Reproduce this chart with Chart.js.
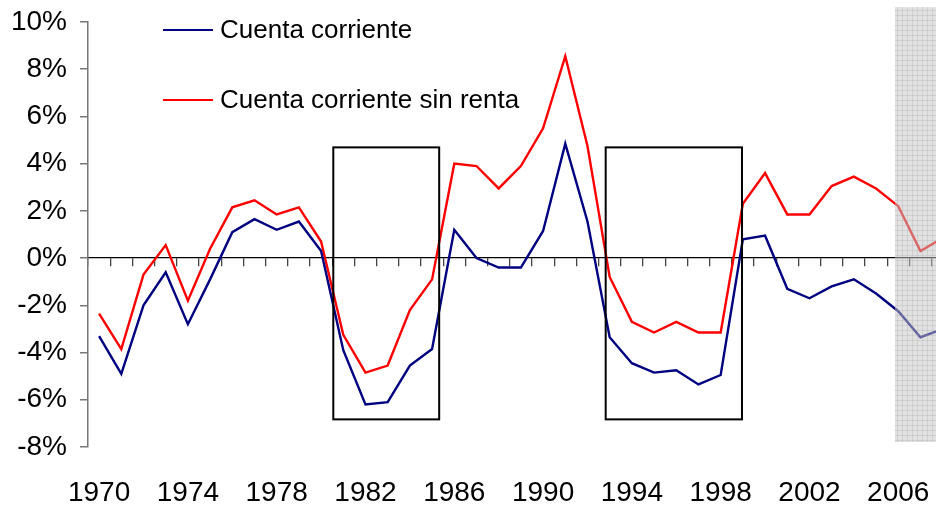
<!DOCTYPE html>
<html>
<head>
<meta charset="utf-8">
<script src="https://cdn.jsdelivr.net/npm/chart.js@4/dist/chart.umd.min.js"></script>
<style>
  html, body { margin: 0; padding: 0; background: #fff; overflow: hidden; }
  #wrap { width: 936px; height: 509px; }
</style>
</head>
<body>
<div id="wrap"><canvas id="chart" width="936" height="509"></canvas></div>
<script>
// years 1970..2008 (the last one runs off the right edge)
const years = [1970, 1971, 1972, 1973, 1974, 1975, 1976, 1977, 1978, 1979,
  1980, 1981, 1982, 1983, 1984, 1985, 1986, 1987, 1988, 1989,
  1990, 1991, 1992, 1993, 1994, 1995, 1996, 1997, 1998, 1999,
  2000, 2001, 2002, 2003, 2004, 2005, 2006, 2007, 2008]

const cuentaCorriente = [-3.3, -4.9, -2.0, -0.6, -2.8, -0.9, 1.1, 1.65, 1.2, 1.55,
  0.3, -3.9, -6.2, -6.1, -4.55, -3.85, 1.2, 0.0, -0.4, -0.4,
  1.15, 4.85, 1.55, -3.35, -4.45, -4.85, -4.75, -5.35, -4.95, 0.8,
  0.95, -1.3, -1.7, -1.2, -0.9, -1.5, -2.25, -3.35, -3.0]

const sinRenta = [-2.35, -3.85, -0.7, 0.55, -1.8, 0.4, 2.15, 2.45, 1.85, 2.15,
  0.7, -3.25, -4.85, -4.55, -2.2, -0.9, 4.0, 3.9, 2.95, 3.9,
  5.5, 8.55, 4.75, -0.8, -2.7, -3.15, -2.7, -3.15, -3.15, 2.3,
  3.6, 1.85, 1.85, 3.05, 3.45, 2.95, 2.2, 0.3, 0.85]

const seriesNames = ["Cuenta corriente", "Cuenta corriente sin renta"]
const xTickLabels = [1970, 1974, 1978, 1982, 1986, 1990, 1994, 1998, 2002, 2006]
const yTicks = [-8, -6, -4, -2, 0, 2, 4, 6, 8, 10]

// highlighted periods (rectangles) and the shaded forecast band
const boxPeriods = [[1980.55, 1985.32], [1992.82, 1998.96]]
const boxRange = [-6.83, 4.69]
const forecastBand = { from: 2005.85, top: 10.63, bottom: -7.79 }

const overlays = {
    id: 'overlays',
    afterDraw: (chart) => {
        const {ctx, scales: {x, y}} = chart;
        ctx.save();
        // rectangles
        ctx.strokeStyle = '#000';
        ctx.lineWidth = 2;
        boxPeriods.forEach(p => {
            const x1 = x.getPixelForValue(p[0]), x2 = x.getPixelForValue(p[1]);
            const y1 = y.getPixelForValue(boxRange[1]), y2 = y.getPixelForValue(boxRange[0]);
            ctx.strokeRect(x1, y1, x2 - x1, y2 - y1);
        });
        // shaded band
        const bx = x.getPixelForValue(forecastBand.from);
        const by1 = y.getPixelForValue(forecastBand.top);
        const by2 = y.getPixelForValue(forecastBand.bottom);
        const bw = chart.width - bx;
        ctx.fillStyle = 'rgba(195,195,195,0.5)';
        ctx.fillRect(bx, by1, bw, by2 - by1);
        ctx.strokeStyle = 'rgba(150,150,150,0.22)';
        ctx.lineWidth = 1;
        ctx.beginPath();
        for (let gx = bx + 2.5; gx < bx + bw; gx += 5) {
            ctx.moveTo(Math.round(gx) + 0.5, by1);
            ctx.lineTo(Math.round(gx) + 0.5, by2);
        }
        for (let gy = by1 + 2.5; gy < by2; gy += 5) {
            ctx.moveTo(bx, Math.round(gy) + 0.5);
            ctx.lineTo(bx + bw, Math.round(gy) + 0.5);
        }
        ctx.stroke();

        // legend
        ctx.font = '26px "Liberation Sans", Arial, sans-serif';
        ctx.textBaseline = 'alphabetic';
        ctx.textAlign = 'left';
        const rows = [30, 100];
        chart.data.datasets.forEach((ds, i) => {
            ctx.strokeStyle = ds.borderColor;
            ctx.lineWidth = 2;
            ctx.beginPath();
            ctx.moveTo(163, rows[i]);
            ctx.lineTo(213, rows[i]);
            ctx.stroke();
            ctx.fillStyle = '#000';
            ctx.fillText(ds.label, 220, rows[i] + 7.5);
        });
        ctx.restore();
    }
};

const ctx = document.getElementById('chart').getContext('2d');
new Chart(ctx, {
    type: 'line',
    data: {
        datasets: [{
            label: seriesNames[0],
            data: years.map((yr, i) => ({x: yr, y: cuentaCorriente[i]})),
            borderColor: '#000080',
            borderWidth: 2.4,
            pointRadius: 0,
            tension: 0
        }, {
            label: seriesNames[1],
            data: years.map((yr, i) => ({x: yr, y: sinRenta[i]})),
            borderColor: '#ff0000',
            borderWidth: 2.4,
            pointRadius: 0,
            tension: 0
        }]
    },
    options: {
        responsive: false,
        animation: false,
        devicePixelRatio: 1,
        layout: { padding: { top: 22, left: 0, right: 0, bottom: 0 } },
        plugins: {
            legend: { display: false },
            tooltip: { enabled: false }
        },
        scales: {
            x: {
                type: 'linear',
                min: 1969.5,
                max: 2007.7,
                position: 'bottom',
                border: { display: false },
                grid: { display: false, drawTicks: false },
                afterBuildTicks: s => { s.ticks = xTickLabels.map(v => ({value: v})) },
                afterFit: s => { s.height = 62; s.paddingLeft = 0; s.paddingRight = 0 },
                ticks: {
                    padding: 29,
                    maxRotation: 0,
                    autoSkip: false,
                    color: '#000',
                    font: { family: '"Liberation Sans", Arial, sans-serif', size: 28 },
                    callback: v => String(v)
                }
            },
            zero: {
                type: 'linear',
                axis: 'x',
                min: 1969.5,
                max: 2007.7,
                position: { y: 0 },
                border: { display: true, color: '#000', width: 1.3 },
                grid: { display: true, drawOnChartArea: false, drawTicks: true, tickLength: 8, color: '#444', lineWidth: 1.3 },
                afterBuildTicks: s => { s.ticks = years.map(v => ({value: v - 0.5})) },
                afterFit: s => { s.paddingLeft = 0; s.paddingRight = 0 },
                ticks: { display: false }
            },
            y: {
                type: 'linear',
                min: -8,
                max: 10,
                position: 'left',
                border: { display: true, color: '#777', width: 1.5 },
                grid: { display: true, drawOnChartArea: false, drawTicks: true, tickLength: 8, color: '#777', lineWidth: 1.5 },
                afterBuildTicks: s => { s.ticks = yTicks.map(v => ({value: v})) },
                afterFit: s => { s.width = 88; s.paddingTop = 0; s.paddingBottom = 0 },
                ticks: {
                    padding: 13,
                    color: '#000',
                    font: { family: '"Liberation Sans", Arial, sans-serif', size: 28 },
                    callback: v => v + '%'
                }
            }
        }
    },
    plugins: [overlays]
});
</script>
</body>
</html>
